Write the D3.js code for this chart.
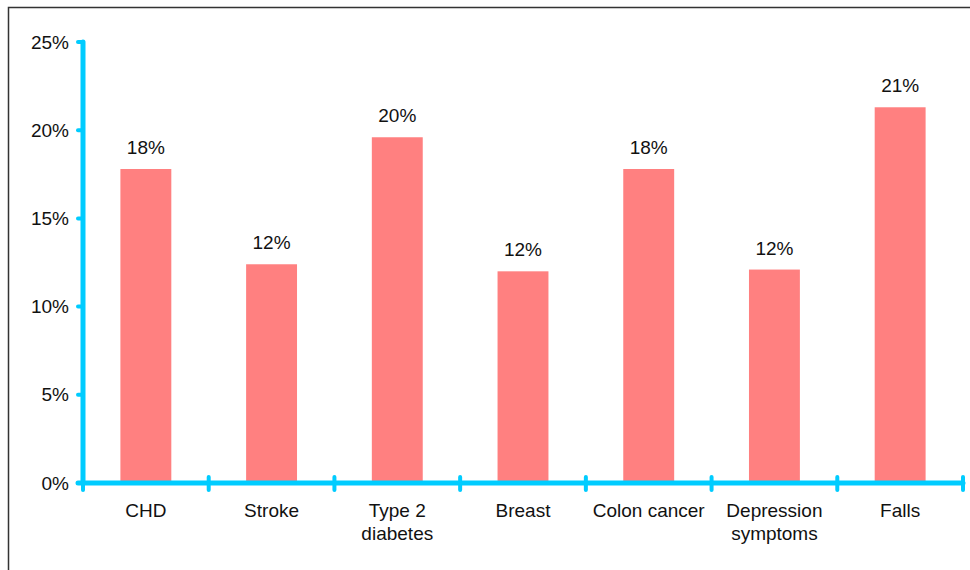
<!DOCTYPE html>
<html>
<head>
<meta charset="utf-8">
<script src="https://cdn.jsdelivr.net/npm/d3@7/dist/d3.min.js"></script>
<style>
  html, body { margin: 0; padding: 0; background: #fff; }
  svg { display: block; font-family: "Liberation Sans", Arial, Helvetica, sans-serif; }
</style>
</head>
<body>
<svg id="chart" width="970" height="570"></svg>
<script>
// Risk reduction by condition
const categories = ["CHD", "Stroke", "Type 2\ndiabetes", "Breast", "Colon cancer", "Depression\nsymptoms", "Falls"];
const values = [0.178, 0.124, 0.196, 0.12, 0.178, 0.121, 0.213];
const yTicks = [0, 0.05, 0.10, 0.15, 0.20, 0.25];

const axisColor = "#00ccff";
const barColor = "#ff8080";
const fontSize = 19;

const svg = d3.select("#chart");

// outer frame
svg.append("rect")
  .attr("x", 8.5).attr("y", 7.5)
  .attr("width", 990).attr("height", 600)
  .attr("fill", "none").attr("stroke", "#333").attr("stroke-width", 1.5);

const x = d3.scaleBand().domain(categories).range([83, 963]).paddingInner(0).paddingOuter(0);
const y = d3.scaleLinear().domain([0, 0.25]).range([483, 42]);
const pct = d3.format(".0%");

// bars
const barW = x.bandwidth() * 0.405;
svg.append("g").selectAll("rect")
  .data(categories)
  .join("rect")
  .attr("x", (d) => x(d) + x.bandwidth() / 2 - barW / 2)
  .attr("y", (d, i) => y(values[i]))
  .attr("width", barW)
  .attr("height", (d, i) => y(0) - y(values[i]))
  .attr("fill", barColor);

// value labels
svg.append("g").selectAll("text")
  .data(categories)
  .join("text")
  .attr("x", (d) => x(d) + x.bandwidth() / 2)
  .attr("y", (d, i) => y(values[i]) - 15)
  .attr("text-anchor", "middle")
  .attr("font-size", fontSize)
  .attr("fill", "#111")
  .text((d, i) => pct(values[i]));

// y axis
const yAxis = svg.append("g");
yAxis.append("line")
  .attr("x1", 83).attr("x2", 83)
  .attr("y1", y(0.25)).attr("y2", y(0))
  .attr("stroke", axisColor).attr("stroke-width", 5).attr("stroke-linecap", "round");
yAxis.selectAll("line.tick")
  .data(yTicks)
  .join("line")
  .attr("class", "tick")
  .attr("x1", 78).attr("x2", 83)
  .attr("y1", (d) => y(d)).attr("y2", (d) => y(d))
  .attr("stroke", axisColor).attr("stroke-width", 4).attr("stroke-linecap", "round");
yAxis.selectAll("text")
  .data(yTicks)
  .join("text")
  .attr("x", 69)
  .attr("y", (d) => y(d))
  .attr("dy", "0.35em")
  .attr("text-anchor", "end")
  .attr("font-size", fontSize)
  .attr("fill", "#111")
  .text((d) => pct(d));

// x axis
const xAxis = svg.append("g");
xAxis.append("line")
  .attr("x1", 78).attr("x2", 963)
  .attr("y1", y(0)).attr("y2", y(0))
  .attr("stroke", axisColor).attr("stroke-width", 5).attr("stroke-linecap", "round");
const bounds = categories.map((d) => x(d)).concat([x.range()[1]]);
xAxis.selectAll("line.tick")
  .data(bounds)
  .join("line")
  .attr("class", "tick")
  .attr("x1", (d) => d).attr("x2", (d) => d)
  .attr("y1", y(0) - 6).attr("y2", y(0) + 7)
  .attr("stroke", axisColor).attr("stroke-width", 4).attr("stroke-linecap", "round");

const xl = xAxis.selectAll("text")
  .data(categories)
  .join("text")
  .attr("x", (d) => x(d) + x.bandwidth() / 2)
  .attr("y", 517)
  .attr("text-anchor", "middle")
  .attr("font-size", fontSize)
  .attr("fill", "#111");
xl.selectAll("tspan")
  .data((d) => d.split("\n").map((t, i) => ({ t, i, cx: x(d) + x.bandwidth() / 2 })))
  .join("tspan")
  .attr("x", (d) => d.cx)
  .attr("y", (d) => 517 + d.i * 23)
  .text((d) => d.t);
</script>
</body>
</html>
